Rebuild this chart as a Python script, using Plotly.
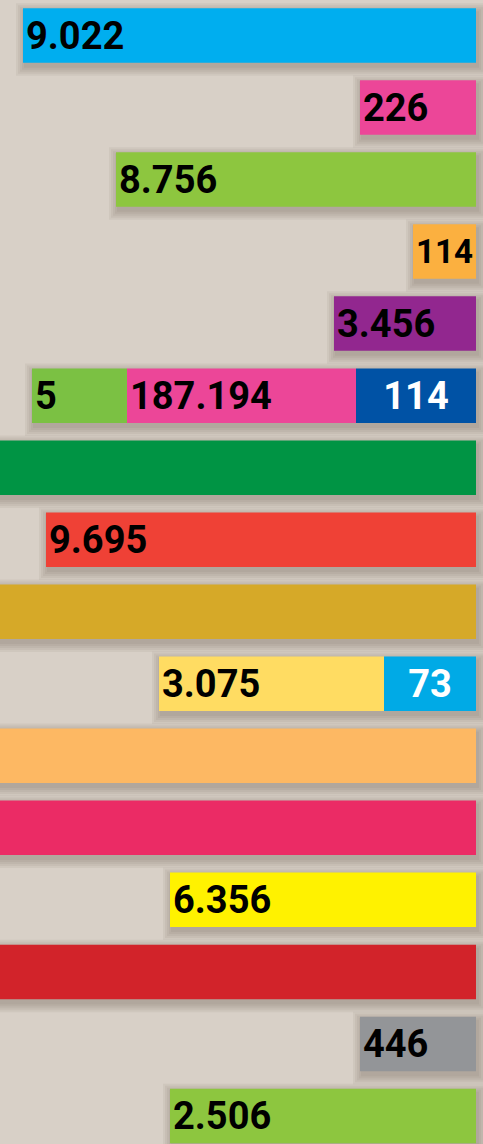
import plotly.graph_objects as go

# ---- data ----
rows = [str(i) for i in range(1, 17)]

# single-segment bars (None where a row is a stacked bar)
single_len = [453, 116, 360, 63, 142, None, 490, 430, 490, None, 490, 490, 306, 490, 116, 306]
single_lbl = ["9.022", "226", "8.756", "114", "3.456", "", "", "9.695", "", "", "", "", "6.356", "", "446", "2.506"]
single_col = ["#00aeef", "#ec4698", "#8dc63f", "#fbb040", "#92278f", "#ffffff", "#009444", "#ef4136",
              "#d6a928", "#ffffff", "#fdb863", "#eb2b65", "#fff200", "#d2232a", "#939598", "#8dc63f"]

# stacked rows: right, middle and left segments
stack_rows = ["6", "10"]
right_len = [120, 92]
right_lbl = ["114", "73"]
right_col = ["#0052a5", "#00aae6"]
mid_len = [229, 225]
mid_lbl = ["187.194", "3.075"]
mid_col = ["#ec4698", "#ffdc62"]
left_rows = ["6"]
left_len = [95]
left_lbl = ["5"]
left_col = ["#7bc143"]

BG = "#d8d0c7"
FONT = "Roboto, Liberation Sans Narrow, DejaVu Sans Condensed, sans-serif"
W, H = 483, 1144
ROW_PX = 72.03
BAR_PX = 54.5

fig = go.Figure()

# ---- soft drop shadows (drawn first) ----
totals = {}
for r, v in zip(rows, single_len):
    if v is not None:
        totals[r] = v
for r, a, b in zip(stack_rows, right_len, mid_len):
    totals[r] = a + b
for r, c in zip(left_rows, left_len):
    totals[r] += c
sh_rows = list(totals.keys())
sh_tot = [totals[r] for r in sh_rows]
dx, dy = 2, 4
for s in [1, 3, 5, 7, 9]:
    fig.add_trace(go.Bar(
        y=sh_rows, x=[t + 2 * s for t in sh_tot], base=-(s + dx), orientation="h",
        width=(BAR_PX + 2 * s) / ROW_PX, offset=-(BAR_PX + 2 * s) / ROW_PX / 2 + dy / ROW_PX,
        marker=dict(color="rgba(90,70,55,0.065)", line=dict(width=0)),
        hoverinfo="skip", showlegend=False))

tf = dict(family=FONT, size=38, color="black", weight="bold")

fig.add_trace(go.Bar(
    y=rows, x=single_len, orientation="h", marker=dict(color=single_col, line=dict(width=0)),
    text=single_lbl, textposition="inside", insidetextanchor="end", textangle=0,
    textfont=tf, showlegend=False))

fig.add_trace(go.Bar(
    y=stack_rows, x=right_len, orientation="h", marker=dict(color=right_col, line=dict(width=0)),
    text=right_lbl, textposition="inside", insidetextanchor="middle", textangle=0,
    textfont=dict(tf, color="white"), showlegend=False))

fig.add_trace(go.Bar(
    y=stack_rows, x=mid_len, base=right_len, orientation="h",
    marker=dict(color=mid_col, line=dict(width=0)),
    text=mid_lbl, textposition="inside", insidetextanchor="end", textangle=0,
    textfont=tf, showlegend=False))

fig.add_trace(go.Bar(
    y=left_rows, x=left_len, base=[right_len[0] + mid_len[0]], orientation="h",
    marker=dict(color=left_col, line=dict(width=0)),
    text=left_lbl, textposition="inside", insidetextanchor="end", textangle=0,
    textfont=tf, showlegend=False))

top = -35.5 / ROW_PX
bottom = top + H / ROW_PX
fig.update_layout(
    width=W, height=H, margin=dict(l=0, r=0, t=0, b=0),
    paper_bgcolor=BG, plot_bgcolor=BG, barmode="overlay",
    bargap=1 - BAR_PX / ROW_PX,
    xaxis=dict(range=[476, -7], visible=False, showgrid=False, zeroline=False),
    yaxis=dict(type="category", categoryorder="array", categoryarray=rows,
               range=[bottom, top], visible=False, showgrid=False, zeroline=False),
)

fig.write_html("out.html", config={"displayModeBar": False},
               post_script="document.body.style.margin='0';document.body.style.background='" + BG + "';")
